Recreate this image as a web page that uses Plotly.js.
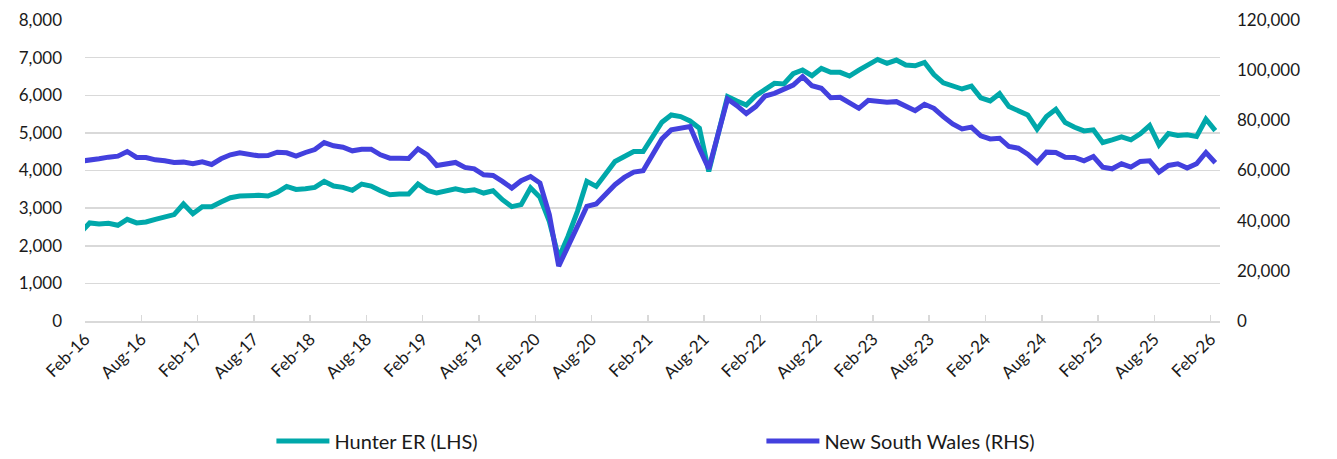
<!DOCTYPE html>
<html>
<head>
<meta charset="utf-8">
<script src="https://cdn.plot.ly/plotly-3.0.1.min.js"></script>
<style>
html,body{margin:0;padding:0;background:#fff;}
#chart{width:1337px;height:459px;}
</style>
</head>
<body>
<div id="chart"></div>
<script>
// Monthly categories, Jan-16 .. Feb-26 (Jan-16 only partly visible at the left edge)
const monthNames = ['Jan','Feb','Mar','Apr','May','Jun','Jul','Aug','Sep','Oct','Nov','Dec'];
const categories = [];
for (let y = 16; y <= 26; y++) {
  for (let m = 0; m < 12; m++) {
    if (y === 26 && m > 1) break;
    categories.push(monthNames[m] + '-' + y);
  }
}

// Hunter ER (LHS)
const hunterER = [
  2340,
  2606, 2580, 2597, 2544, 2703, 2606, 2633, 2703, 2765, 2827, 3110, 2853,
  3039, 3039, 3163, 3277, 3322, 3339, 3339, 3322, 3419, 3578, 3498, 3516,
  3551, 3710, 3587, 3551, 3472, 3640, 3587, 3463, 3357, 3375, 3375, 3640,
  3472, 3401, 3463, 3516, 3454, 3489, 3401, 3463, 3224, 3039, 3092, 3540,
  3286, 2650, 1678, 2253, 2915, 3710, 3578, 3931, 4240, 4373, 4505, 4505,
  4903, 5283, 5477, 5433, 5318, 5122, 3975, 4974, 5963, 5848, 5742, 5990,
  6140, 6316, 6299, 6572, 6670, 6519, 6714, 6608, 6608, 6511, 6670, 6802,
  6952, 6846, 6935, 6802, 6784, 6873, 6550, 6330, 6254, 6166, 6240, 5930,
  5848, 6042, 5698, 5592, 5477, 5097, 5433, 5627, 5274, 5150, 5053, 5080,
  4744, 4815, 4894, 4815, 4974, 5194, 4682, 4982, 4929, 4947, 4903, 5362,
  5062
];

// New South Wales (RHS)
const nsw = [
  63700,
  64000, 64660, 65320, 65720, 67575, 65190, 65190, 64260, 63865, 63200, 63335, 62670,
  63470, 62410, 64660, 66250, 67045, 66515, 65850, 65980, 67310, 67045, 65720, 67180,
  68370, 71150, 69830, 69300, 67840, 68500, 68500, 66250, 64925, 64925, 64790, 68635,
  66250, 62010, 62540, 63200, 61215, 60685, 58300, 58035, 55650, 53000, 55915, 57600,
  54990, 42400, 21860, 29810, 38425, 45710, 46640, 50615, 54325, 57240, 59360, 59890,
  66250, 72610, 76190, 76850, 77500, 68800, 60685, 74600, 88510, 85860, 82680, 85500,
  89700, 90760, 92485, 94075, 97390, 93810, 92750, 89040, 89170, 86790, 84800, 87980,
  87715, 87185, 87450, 85860, 83870, 86390, 84800, 81490, 78570, 76585, 77300, 73800,
  72610, 72875, 69560, 68900, 66515, 63200, 67310, 67180, 65320, 65190, 63865, 65590,
  61350, 60685, 62670, 61350, 63600, 63865, 59360, 62010, 62670, 60950, 62670, 67180,
  63070
];

const seriesNames = ['Hunter ER (LHS)', 'New South Wales (RHS)'];
const seriesColors = ['#00A8AA', '#4340DE'];

// tick labels every 6 months starting Feb-16, placed on category boundaries
const xIndex = categories.map((_, i) => i);
const tickIdx = [];
for (let i = 1; i < categories.length; i += 6) tickIdx.push(i);
const tickVals = tickIdx.map(i => i - 0.5);
const tickText = tickIdx.map(i => categories[i]);

const font = 'Lato, "Open Sans", sans-serif';
const grid = '#D9D9D9';

const traces = [
  {
    x: xIndex, y: hunterER, name: seriesNames[0], type: 'scatter', mode: 'lines',
    line: {color: seriesColors[0], width: 5}, yaxis: 'y'
  },
  {
    x: xIndex, y: nsw, name: seriesNames[1], type: 'scatter', mode: 'lines',
    line: {color: seriesColors[1], width: 5}, yaxis: 'y2'
  }
];

const layout = {
  width: 1337, height: 459,
  margin: {l: 85, r: 117, t: 20, b: 138, autoexpand: false},
  paper_bgcolor: '#fff', plot_bgcolor: '#fff',
  font: {family: font, size: 16, color: '#1a1a1a'},
  showlegend: true,
  legend: {
    orientation: 'h', xref: 'container', yref: 'container',
    x: 0.203, xanchor: 'left', y: 0.039, yanchor: 'middle',
    entrywidth: 422, entrywidthmode: 'pixels', itemwidth: 53,
    font: {family: font, size: 20, color: '#1a1a1a'}
  },
  xaxis: {
    range: [0.5, 121.5], tickmode: 'array', tickvals: tickVals, ticktext: tickText,
    tickangle: -45, ticks: 'inside', ticklen: 6, tickwidth: 1.5, tickcolor: grid,
    showline: true, linecolor: grid, linewidth: 1.5, showgrid: false, zeroline: false,
    tickfont: {family: font, size: 17, color: '#1a1a1a'}
  },
  yaxis: {
    range: [0, 8000], dtick: 1000, tickformat: ',', showgrid: true, gridcolor: grid,
    gridwidth: 1.5, zeroline: false, showline: false, ticks: '', ticklabelstandoff: 22,
    tickfont: {family: font, size: 17, color: '#1a1a1a'}
  },
  yaxis2: {
    range: [0, 120000], dtick: 20000, tickformat: ',', overlaying: 'y', side: 'right',
    showgrid: false, zeroline: false, showline: false, ticks: '', ticklabelstandoff: 16,
    tickfont: {family: font, size: 17, color: '#1a1a1a'}
  }
};

Plotly.newPlot('chart', traces, layout, {displayModeBar: false, staticPlot: true});
</script>
</body>
</html>
